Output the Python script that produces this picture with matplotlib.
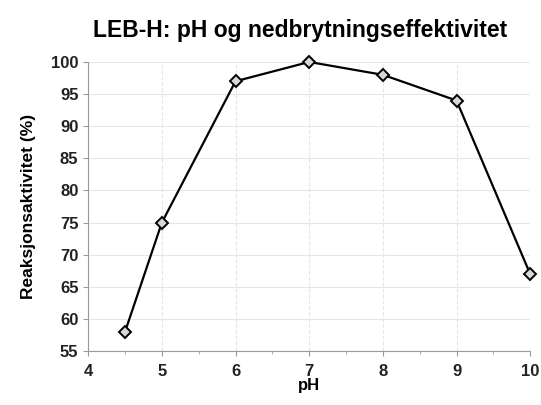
import matplotlib
matplotlib.use('Agg')
import matplotlib.pyplot as plt
from matplotlib.ticker import MultipleLocator

# data
ph = [4.5, 5, 6, 7, 8, 9, 10]
aktivitet = [58, 75, 97, 100, 98, 94, 67]

plt.rcParams['font.family'] = 'Liberation Sans'

fig = plt.figure(figsize=(5.41, 4.05), dpi=100)
ax = fig.add_axes([0.163, 0.133, 0.817, 0.714])

ax.plot(ph, aktivitet, color='black', linewidth=1.6, marker='D',
        markersize=6, markerfacecolor='#d8d8d8', markeredgecolor='black',
        markeredgewidth=1.4, zorder=3, clip_on=False)

ax.set_xlim(4, 10)
ax.set_ylim(55, 100)
ax.xaxis.set_major_locator(MultipleLocator(1))
ax.xaxis.set_minor_locator(MultipleLocator(0.5))
ax.yaxis.set_major_locator(MultipleLocator(5))

ax.grid(axis='y', color='#e6e6e6', linewidth=0.8)
ax.grid(axis='x', color='#e6e6e6', linewidth=0.8, linestyle='--')
ax.set_axisbelow(True)

for s in ['top', 'right']:
    ax.spines[s].set_visible(False)
for s in ['left', 'bottom']:
    ax.spines[s].set_color('#999999')
ax.tick_params(which='both', colors='#999999', labelcolor='#222222', labelsize=12)
ax.tick_params(axis='x', pad=6)
for lbl in ax.get_xticklabels() + ax.get_yticklabels():
    lbl.set_fontweight('bold')

ax.set_xlabel('pH', fontsize=12, fontweight='bold', labelpad=-1)
ax.set_ylabel('Reaksjonsaktivitet (%)', fontsize=12.5, fontweight='bold', labelpad=11)
ax.set_title('LEB-H: pH og nedbrytningseffektivitet', fontsize=16.5,
             fontweight='bold', pad=18, x=0.48)

fig.savefig('out.png', dpi=100)
